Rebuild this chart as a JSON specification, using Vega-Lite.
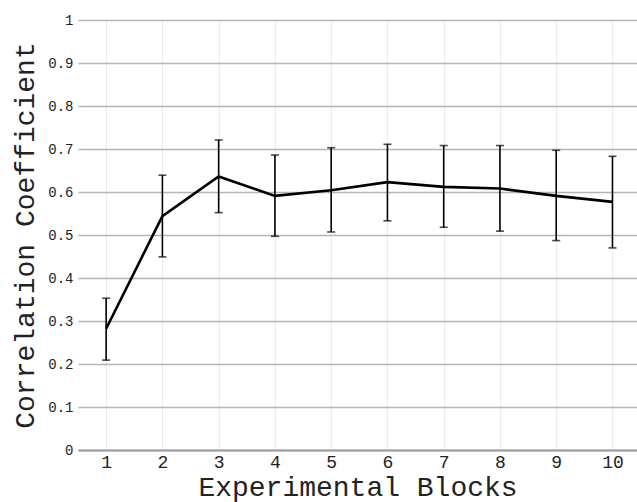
{
  "$schema": "https://vega.github.io/schema/vega-lite/v6.json",
  "width": 559,
  "height": 430,
  "autosize": {"type": "none"},
  "padding": {"left": 78, "top": 20, "right": 0, "bottom": 52},
  "background": "white",
  "config": {"view": {"stroke": null}},
  "data": {"values": [
    {"block": 1, "r": 0.282, "lo": 0.209, "hi": 0.353},
    {"block": 2, "r": 0.544, "lo": 0.449, "hi": 0.639},
    {"block": 3, "r": 0.636, "lo": 0.552, "hi": 0.721},
    {"block": 4, "r": 0.591, "lo": 0.497, "hi": 0.686},
    {"block": 5, "r": 0.604, "lo": 0.507, "hi": 0.703},
    {"block": 6, "r": 0.623, "lo": 0.533, "hi": 0.711},
    {"block": 7, "r": 0.612, "lo": 0.518, "hi": 0.708},
    {"block": 8, "r": 0.608, "lo": 0.509, "hi": 0.708},
    {"block": 9, "r": 0.591, "lo": 0.487, "hi": 0.697},
    {"block": 10, "r": 0.577, "lo": 0.470, "hi": 0.683}
  ]},
  "encoding": {
    "x": {
      "field": "block", "type": "quantitative",
      "scale": {"domain": [0.5, 10.436], "nice": false, "zero": false},
      "axis": {
        "title": "Experimental Blocks",
        "titleFont": "Liberation Mono", "titleFontSize": 28, "titleFontWeight": "normal", "titleColor": "#222",
        "titlePadding": 2,
        "values": [1,2,3,4,5,6,7,8,9,10], "format": "d",
        "labelFont": "Liberation Mono", "labelFontSize": 18, "labelColor": "#222", "labelPadding": 3,
        "ticks": false,
        "grid": true, "gridColor": "#ececec", "gridWidth": 1,
        "domain": true, "domainColor": "#9a9a9a", "domainWidth": 2
      }
    }
  },
  "layer": [
    {
      "mark": {"type": "rule", "color": "#000", "strokeWidth": 1.6},
      "encoding": {
        "y": {"field": "lo", "type": "quantitative",
          "scale": {"domain": [0, 1], "nice": false},
          "axis": {
            "title": "Correlation Coefficient",
            "titleFont": "Liberation Mono", "titleFontSize": 28, "titleFontWeight": "normal", "titleColor": "#222",
            "titlePadding": 8,
            "values": [0,0.1,0.2,0.3,0.4,0.5,0.6,0.7,0.8,0.9,1], "format": ".1~f",
            "labelFont": "Liberation Mono", "labelFontSize": 14, "labelColor": "#222", "labelPadding": 5,
            "ticks": false, "domain": false,
            "grid": true, "gridColor": "#b4b4b4", "gridWidth": 1.3
          }
        },
        "y2": {"field": "hi"}
      }
    },
    {
      "mark": {"type": "tick", "color": "#000", "thickness": 1.6, "size": 8, "orient": "horizontal"},
      "encoding": {"y": {"field": "lo", "type": "quantitative"}}
    },
    {
      "mark": {"type": "tick", "color": "#000", "thickness": 1.6, "size": 8, "orient": "horizontal"},
      "encoding": {"y": {"field": "hi", "type": "quantitative"}}
    },
    {
      "mark": {"type": "line", "color": "#000", "strokeWidth": 2.6},
      "encoding": {"y": {"field": "r", "type": "quantitative"}}
    }
  ]
}
